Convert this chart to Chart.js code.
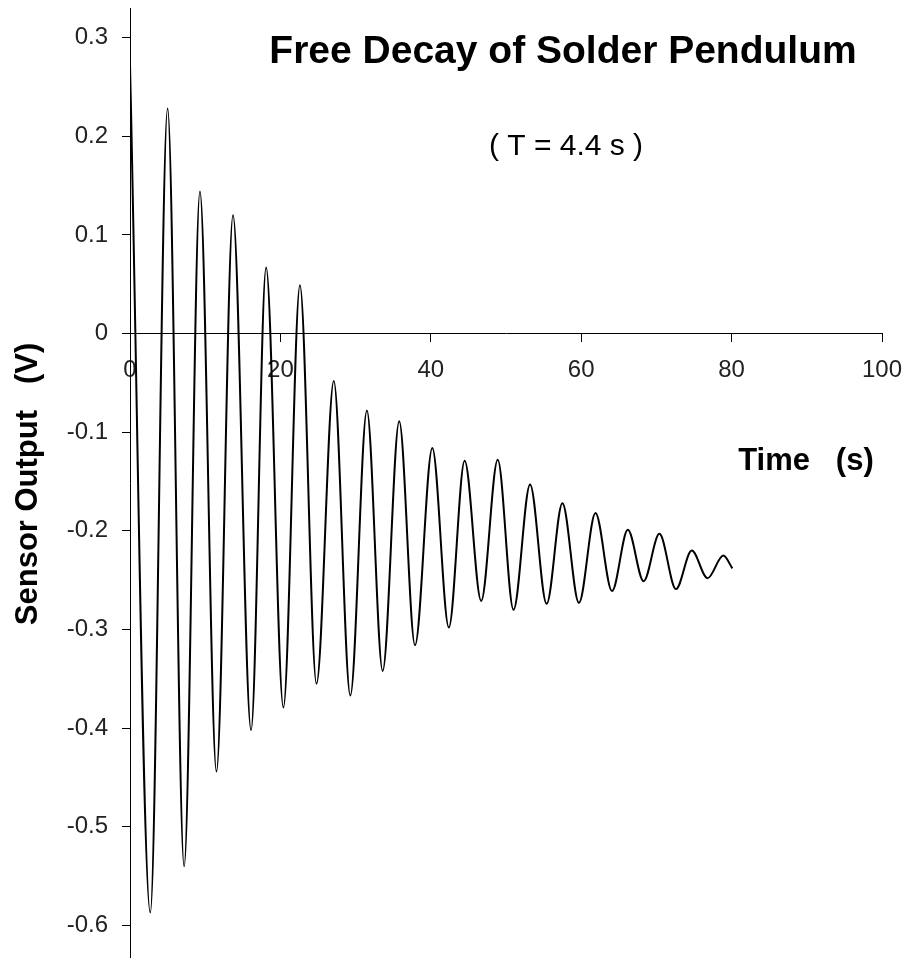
<!DOCTYPE html>
<html>
<head>
<meta charset="utf-8">
<script src="https://cdn.jsdelivr.net/npm/chart.js@4.4.1/dist/chart.umd.min.js"></script>
<style>
  body { margin: 0; background: #fff; }
  canvas { display: block; }
</style>
</head>
<body>
<canvas id="out" width="905" height="958"></canvas>
<script>
// peaks and troughs (time in s, sensor output in V)
const timeS = [0, 2.7, 5.0, 7.2, 9.3, 11.5, 13.7, 16.1, 18.1, 20.4,
  22.6, 24.8, 27.1, 29.3, 31.5, 33.6, 35.8, 37.9, 40.2, 42.4,
  44.5, 46.7, 48.9, 51.0, 53.2, 55.4, 57.5, 59.7, 61.9, 64.1,
  66.2, 68.3, 70.4, 72.6, 74.7, 76.8, 78.9, 80.1];
const sensorV = [0.272, -0.587, 0.228, -0.540, 0.144, -0.444, 0.120, -0.402, 0.067, -0.379,
  0.049, -0.355, -0.048, -0.367, -0.078, -0.342, -0.089, -0.316, -0.116, -0.298,
  -0.129, -0.271, -0.128, -0.280, -0.153, -0.274, -0.172, -0.273, -0.182, -0.261,
  -0.199, -0.251, -0.203, -0.259, -0.220, -0.248, -0.225, -0.238];

const chartTitle = "Free Decay of Solder Pendulum";
const chartNote = "( T = 4.4 s )";
const xTitle = "Time   (s)";
const yTitle = "Sensor Output   (V)";

const FONT = "'Liberation Sans', Arial, sans-serif";

// texts sit inside the plot area, so draw them by hand
const textPlugin = {
  id: "texts",
  afterDraw(chart) {
    const ctx = chart.ctx;
    ctx.save();
    ctx.fillStyle = "#000";
    ctx.textAlign = "center";
    ctx.textBaseline = "alphabetic";

    ctx.font = "bold 39px " + FONT;
    ctx.fillText(chartTitle, 563, 63);

    ctx.font = "30px " + FONT;
    ctx.fillText(chartNote, 566, 155);

    ctx.font = "bold 31px " + FONT;
    ctx.fillText(xTitle, 806, 470);

    ctx.translate(37, 484);
    ctx.rotate(-Math.PI / 2);
    ctx.font = "bold 31px " + FONT;
    ctx.fillText(yTitle, 0, 0);
    ctx.restore();
  }
};

const points = timeS.map((t, i) => ({ x: t, y: sensorV[i] }));

const chartConfig = {
  type: "line",
  data: {
    datasets: [
      {
        data: points,
        borderColor: "#000",
        borderWidth: 2,
        pointRadius: 0,
        fill: false,
        cubicInterpolationMode: "monotone"
      }
    ]
  },
  options: {
    responsive: false,
    animation: false,
    layout: { padding: { left: 0, right: 23, top: 8, bottom: 0 } },
    plugins: {
      legend: { display: false },
      title: { display: false },
      tooltip: { enabled: false }
    },
    scales: {
      x: {
        type: "linear",
        min: 0,
        max: 100,
        position: { y: 0 },
        border: { display: true, color: "#000", width: 1 },
        grid: { drawOnChartArea: false, drawTicks: true, tickLength: 8, color: "#000" },
        ticks: {
          stepSize: 20,
          autoSkip: false,
          maxRotation: 0,
          padding: 14,
          color: "#222",
          font: { family: FONT, size: 24 }
        },
        afterFit(scale) {
          scale.paddingLeft = 0;
          scale.paddingRight = 0;
        }
      },
      y: {
        type: "linear",
        min: -0.633,
        max: 0.33,
        position: "left",
        border: { display: true, color: "#000", width: 1 },
        grid: { drawOnChartArea: false, drawTicks: true, tickLength: 8, color: "#000" },
        ticks: {
          stepSize: 0.1,
          includeBounds: false,
          padding: 14,
          color: "#222",
          font: { family: FONT, size: 24 },
          callback: v => (Math.abs(v) < 1e-9 ? "0" : String(Math.round(v * 10) / 10))
        },
        afterFit(scale) {
          scale.width = 130;
          scale.paddingTop = 0;
          scale.paddingBottom = 0;
        }
      }
    }
  },
  plugins: [textPlugin]
};

const canvasCtx = document.getElementById("out").getContext("2d");
window.chart = new Chart(canvasCtx, chartConfig);
</script>
</body>
</html>
